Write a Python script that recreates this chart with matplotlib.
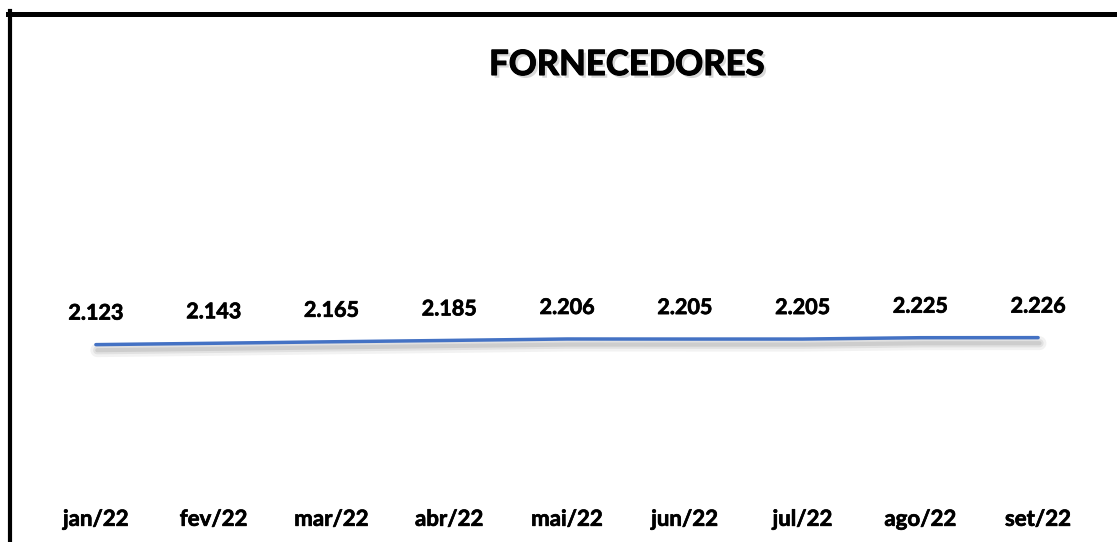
import numpy as np
import matplotlib
matplotlib.use('Agg')
import matplotlib.pyplot as plt
from matplotlib import patheffects
from matplotlib.lines import Line2D

# data
months = ['jan/22', 'fev/22', 'mar/22', 'abr/22', 'mai/22', 'jun/22', 'jul/22', 'ago/22', 'set/22']
suppliers = [2123, 2143, 2165, 2185, 2206, 2205, 2205, 2225, 2226]
labels = ['2.123', '2.143', '2.165', '2.185', '2.206', '2.205', '2.205', '2.225', '2.226']

W, H = 1117, 542
plt.rcParams['font.family'] = ['Lato', 'DejaVu Sans']

fig = plt.figure(figsize=(W / 100, H / 100), dpi=100)

# axes placed in pixel terms (left/right at half category beyond first/last point)
left, right = 37, 1097
top, bottom = 81, 489
ax = fig.add_axes([left / W, (H - bottom) / H, (right - left) / W, (bottom - top) / H])
ax.set_xlim(-0.5, len(months) - 0.5)
ax.set_ylim(0, 6000)
for s in ax.spines.values():
    s.set_visible(False)
ax.set_yticks([])

x = np.arange(len(months))
# soft shadow under the line: a few wide, faint strokes
line_fx = [patheffects.SimpleLineShadow(offset=(1, -4), shadow_color='gray', alpha=0.1, linewidth=10),
           patheffects.SimpleLineShadow(offset=(1, -4), shadow_color='gray', alpha=0.15, linewidth=6),
           patheffects.SimpleLineShadow(offset=(1, -4), shadow_color='gray', alpha=0.2, linewidth=3),
           patheffects.Normal()]
ax.plot(x, suppliers, color='#4472C4', lw=2.5, solid_capstyle='round', path_effects=line_fx)

text_fx = [patheffects.withStroke(linewidth=0.5, foreground='black')]
for xi, v, lab in zip(x, suppliers, labels):
    ax.annotate(lab, (xi, v), xytext=(0, 18), textcoords='offset points',
                ha='center', va='baseline', fontsize=15.5, fontweight='bold', color='black',
                path_effects=text_fx)

ax.set_xticks(x)
ax.set_xticklabels(months, fontsize=16, fontweight='bold')
ax.tick_params(axis='x', length=0, pad=26.5)
for t in ax.get_xticklabels():
    t.set_va('baseline')
    t.set_path_effects(text_fx)

# title with soft shadow
title_fx = [patheffects.withSimplePatchShadow(offset=(2, -2), shadow_rgbFace='gray', alpha=0.3),
            patheffects.withStroke(linewidth=0.8, foreground='black')]
fig.text(627 / W, 1 - 75 / H, 'FORNECEDORES', ha='center', va='baseline', fontsize=25,
         fontweight='bold', color='black', path_effects=title_fx)

# frame: left and top border
fig.add_artist(Line2D([10 / W, 10 / W], [0, 1 - 11 / H], color='black', lw=3, transform=fig.transFigure))
fig.add_artist(Line2D([8 / W, 1], [1 - 13.5 / H, 1 - 13.5 / H], color='black', lw=3.6,
                      transform=fig.transFigure))

fig.savefig('out.png', dpi=100)
